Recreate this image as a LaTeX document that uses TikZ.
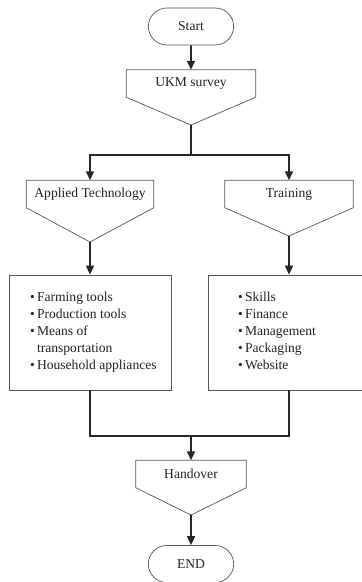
\documentclass[tikz,border=0pt]{standalone}
\usepackage{fontspec}
\setmainfont{Liberation Serif}
\usepackage{tikz}
\usetikzlibrary{arrows.meta,shapes.misc}
\definecolor{edgegray}{HTML}{555555}
\definecolor{txtgray}{HTML}{222222}

\begin{document}
\begin{tikzpicture}[
  x=0.03cm, y=-0.03cm,
  font=\fontsize{11.6}{14.5}\selectfont, text=txtgray,
  term/.style={rounded rectangle, draw=edgegray, line width=0.6pt, minimum width=2.56cm, minimum height=1.11cm, inner sep=0pt},
  entry/.style={rectangle, minimum height=0.81cm, inner sep=0pt},
  outline/.style={draw=edgegray, line width=0.6pt, line join=miter},
  listbox/.style={rectangle, draw=edgegray, line width=0.6pt, minimum width=4.86cm, minimum height=3.45cm, inner sep=0pt},
  link/.style={line width=1.4pt, color=black!85},
  flow/.style={link, -{Triangle[length=0.27cm, width=0.24cm]}},
]
\useasboundingbox (0,0) rectangle (362,582);

% terminals and entry shapes
\node[term] (start) at (191,26.5) {Start};
\node[entry, minimum width=3.87cm] (ukm) at (191,83.5) {UKM survey};
\coordinate (ukmtip) at (191,125);
\draw[outline] (ukm.north west) -- (ukm.north east) -- (ukm.south east) -- (ukmtip) -- (ukm.south west) -- cycle;

\node[entry, minimum width=3.81cm] (apt) at (90,194) {Applied Technology};
\coordinate (apttip) at (90,242);
\draw[outline] (apt.north west) -- (apt.north east) -- (apt.south east) -- (apttip) -- (apt.south west) -- cycle;

\node[entry, minimum width=3.84cm] (trn) at (289,194) {Training};
\coordinate (trntip) at (289,236);
\draw[outline] (trn.north west) -- (trn.north east) -- (trn.south east) -- (trntip) -- (trn.south west) -- cycle;

% item lists
\node[listbox] (lbox) at (90,332.5) {\hspace*{0.2cm}\begin{tabular}{@{}l@{\,}l@{}}
  \textbullet & Farming tools\\ \textbullet & Production tools\\ \textbullet & Means of\\ & transportation\\ \textbullet & Household appliances
\end{tabular}};
\node[listbox] (rbox) at (289,332.5) {\begin{tabular}{@{}l@{\,}l@{}}
  \textbullet & Skills\\ \textbullet & Finance\\ \textbullet & Management\\ \textbullet & Packaging\\ \textbullet & Website
\end{tabular}\hspace*{0.72cm}};

\node[entry, minimum width=3.3cm] (hand) at (191,474) {Handover};
\coordinate (handtip) at (191,515);
\draw[outline] (hand.north west) -- (hand.north east) -- (hand.south east) -- (handtip) -- (hand.south west) -- cycle;

\node[term] (endn) at (191,564) {END};

% connectors
\coordinate (split) at (191,155);
\coordinate (merge) at (191,436);
\draw[flow] (start) -- (ukm);
\draw[link] (ukmtip) -- (split);
\draw[flow] (split) -| (apt);
\draw[flow] (split) -| (trn);
\draw[flow] (apttip) -- (lbox);
\draw[flow] (trntip) -- (rbox);
\draw[link] (lbox.south) |- (merge);
\draw[link] (rbox.south) |- (merge);
\draw[flow] (merge) -- (hand);
\draw[flow] (handtip) -- (endn);

\end{tikzpicture}
\end{document}
